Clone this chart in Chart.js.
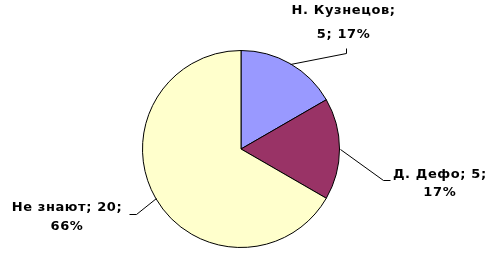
<!DOCTYPE html>
<html>
<head>
<meta charset="utf-8">
<script src="https://cdn.jsdelivr.net/npm/chart.js@4/dist/chart.umd.min.js"></script>
<style>
  html, body { margin: 0; padding: 0; background: #fff; }
  #wrap { width: 492px; height: 257px; position: relative; }
</style>
</head>
<body>
<div id="wrap"><canvas id="pieChart" width="492" height="257"></canvas></div>
<script>
// Кто автор "Робинзона Крузо"?
const labels = ['Н. Кузнецов', 'Д. Дефо', 'Не знают'];
const values = [5, 5, 20];
const percents = ['17%', '17%', '66%'];
const colors = ['#9999FF', '#993366', '#FFFFCC'];

// label text lines per slice
const labelLines = [
  [labels[0] + ';', values[0] + '; ' + percents[0]],
  [labels[1] + '; ' + values[1] + ';', percents[1]],
  [labels[2] + '; ' + values[2] + ';', percents[2]]
];
// leader geometry: elbow offset from arc edge, end offset from elbow,
// first baseline offset from end, gap between lines
const leaders = [
  { elbow: [56, -11], end: [0, -5], text: [-3, -34], gap: 24 },
  { elbow: [43, 31], end: [7, 0], text: [50, -2.5], gap: 18 },
  { elbow: [-20, 16], end: [-7, 0], text: [-62, -3.5], gap: 19 }
];

const leaderLabels = {
  id: 'leaderLabels',
  afterDatasetsDraw(chart) {
    const c = chart.ctx;
    const arcs = chart.getDatasetMeta(0).data;
    c.save();
    c.strokeStyle = '#000';
    c.lineWidth = 1;
    c.fillStyle = '#000';
    c.font = 'bold 13px "DejaVu Sans", sans-serif';
    c.letterSpacing = '0.6px';
    c.textAlign = 'center';
    c.textBaseline = 'alphabetic';
    arcs.forEach((arc, i) => {
      const p = arc.getProps(['x', 'y', 'startAngle', 'endAngle', 'outerRadius'], true);
      const mid = (p.startAngle + p.endAngle) / 2;
      const sx = p.x + Math.cos(mid) * p.outerRadius;
      const sy = p.y + Math.sin(mid) * p.outerRadius;
      const g = leaders[i];
      const ex = sx + g.elbow[0], ey = sy + g.elbow[1];
      const fx = ex + g.end[0], fy = ey + g.end[1];
      c.beginPath();
      c.moveTo(Math.round(sx) + 0.5, Math.round(sy) + 0.5);
      c.lineTo(Math.round(ex) + 0.5, Math.round(ey) + 0.5);
      c.lineTo(Math.round(fx) + 0.5, Math.round(fy) + 0.5);
      c.stroke();
      const tx = fx + g.text[0] + 0.3;
      const ty = fy + g.text[1];
      labelLines[i].forEach((line, k) => {
        c.fillText(line, tx, ty + k * g.gap);
      });
    });
    c.restore();
  }
};

new Chart(document.getElementById('pieChart'), {
  type: 'pie',
  data: {
    labels: labels,
    datasets: [{
      data: values,
      backgroundColor: colors,
      borderColor: '#000',
      borderWidth: 1
    }]
  },
  options: {
    responsive: false,
    animation: false,
    layout: { padding: { left: 142, right: 152, top: 50, bottom: 9 } },
    plugins: {
      legend: { display: false },
      tooltip: { enabled: false }
    }
  },
  plugins: [leaderLabels]
});
</script>
</body>
</html>
